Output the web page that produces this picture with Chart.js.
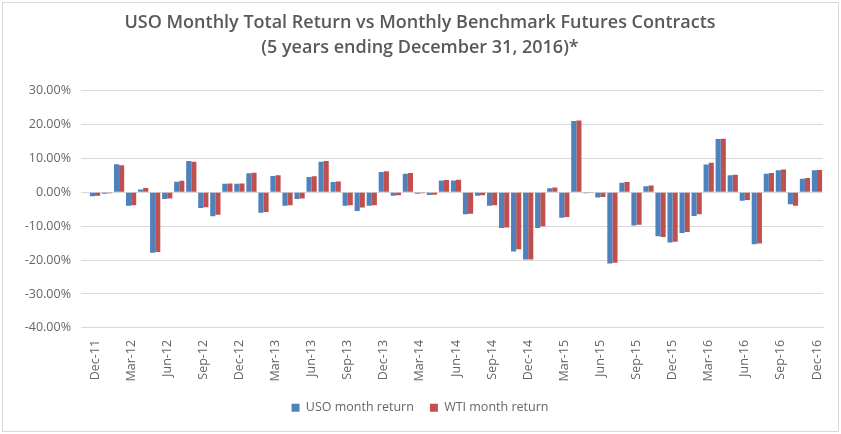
<!DOCTYPE html>
<html>
<head>
<meta charset="utf-8">
<script src="https://cdn.jsdelivr.net/npm/chart.js@4/dist/chart.umd.min.js"></script>
<style>
  html, body { margin: 0; padding: 0; background: #fff; }
  #wrap {
    position: absolute; left: 2px; top: 2px;
    width: 835px; height: 428px;
    border: 1px solid #d9d9d9;
  }
</style>
</head>
<body>
<div id="wrap"><canvas id="c"></canvas></div>
<script>
// months Dec-11 .. Dec-16
const months = [
  'Dec-11','Jan-12','Feb-12','Mar-12','Apr-12','May-12','Jun-12','Jul-12','Aug-12','Sep-12','Oct-12','Nov-12',
  'Dec-12','Jan-13','Feb-13','Mar-13','Apr-13','May-13','Jun-13','Jul-13','Aug-13','Sep-13','Oct-13','Nov-13',
  'Dec-13','Jan-14','Feb-14','Mar-14','Apr-14','May-14','Jun-14','Jul-14','Aug-14','Sep-14','Oct-14','Nov-14',
  'Dec-14','Jan-15','Feb-15','Mar-15','Apr-15','May-15','Jun-15','Jul-15','Aug-15','Sep-15','Oct-15','Nov-15',
  'Dec-15','Jan-16','Feb-16','Mar-16','Apr-16','May-16','Jun-16','Jul-16','Aug-16','Sep-16','Oct-16','Nov-16',
  'Dec-16'
];

// monthly returns in %
const usoReturn = [
  -1.2, -0.4, 8.3, -4.0, 0.8, -17.8, -2.0, 3.1, 9.2, -4.6, -7.1, 2.5,
  2.5, 5.6, -6.0, 4.8, -4.0, -2.0, 4.5, 9.0, 3.0, -4.0, -5.5, -4.0,
  6.0, -1.0, 5.5, -0.4, -0.8, 3.5, 3.5, -6.5, -1.0, -4.0, -10.5, -17.5,
  -19.8, -10.5, 1.2, -7.5, 21.0, -0.3, -1.5, -21.0, 2.8, -9.8, 1.8, -13.0,
  -14.8, -12.0, -7.0, 8.2, 15.7, 5.0, -2.5, -15.3, 5.5, 6.5, -3.5, 4.0,
  6.5
];
const wtiReturn = [
  -1.0, -0.3, 8.0, -3.8, 1.3, -17.6, -1.8, 3.4, 9.0, -4.4, -6.6, 2.6,
  2.6, 5.8, -5.8, 5.0, -3.8, -1.8, 4.7, 9.2, 3.2, -3.8, -4.5, -3.8,
  6.2, -0.9, 5.7, -0.3, -0.7, 3.6, 3.7, -6.3, -0.9, -3.8, -10.4, -16.8,
  -19.8, -10.0, 1.4, -7.3, 21.2, -0.2, -1.4, -20.8, 3.0, -9.6, 2.0, -13.2,
  -14.6, -11.7, -6.5, 8.7, 15.8, 5.2, -2.3, -15.1, 5.7, 6.7, -4.0, 4.2,
  6.6
];

const GREY = '#595959';
const TICK = '#666666';
const FONT = "'Open Sans', 'Noto Sans', sans-serif";

Chart.defaults.font.family = FONT;
Chart.defaults.color = GREY;

new Chart(document.getElementById('c').getContext('2d'), {
  type: 'bar',
  data: {
    labels: months,
    datasets: [
      {
        label: 'USO month return',
        data: usoReturn,
        backgroundColor: '#4f81bd',
        borderWidth: 0,
        categoryPercentage: 0.85,
        barPercentage: 1.0
      },
      {
        label: 'WTI month return',
        data: wtiReturn,
        backgroundColor: '#c0504d',
        borderWidth: 0,
        categoryPercentage: 0.85,
        barPercentage: 1.0
      }
    ]
  },
  options: {
    responsive: true,
    maintainAspectRatio: false,
    animation: false,
    layout: { padding: { left: 14, right: 15, top: 6, bottom: 7 } },
    plugins: {
      title: {
        display: true,
        text: ['USO Monthly Total Return vs Monthly Benchmark Futures Contracts',
               '(5 years ending December 31, 2016)*'],
        color: GREY,
        font: { size: 18, weight: '600', family: FONT, lineHeight: 1.35 },
        padding: { top: 2, bottom: 31 }
      },
      legend: {
        position: 'bottom',
        labels: {
          boxWidth: 8, boxHeight: 8,
          color: TICK,
          font: { size: 12.5 },
          padding: 16
        }
      },
      tooltip: { enabled: false }
    },
    scales: {
      x: {
        grid: { display: false },
        border: { color: '#d9d9d9' },
        ticks: {
          autoSkip: false,
          maxRotation: 90, minRotation: 90,
          font: { size: 12.5 },
          color: TICK,
          padding: 4,
          callback: function (v, i) { return i % 3 === 0 ? months[i] : ''; }
        }
      },
      y: {
        min: -40, max: 30,
        grid: { color: '#d9d9d9' },
        border: { display: false },
        ticks: {
          stepSize: 10,
          font: { size: 12.5 },
          color: TICK,
          padding: 10,
          callback: v => v.toFixed(2) + '%'
        },
        afterFit: s => { s.width = 72; }
      }
    }
  }
});
</script>
</body>
</html>
